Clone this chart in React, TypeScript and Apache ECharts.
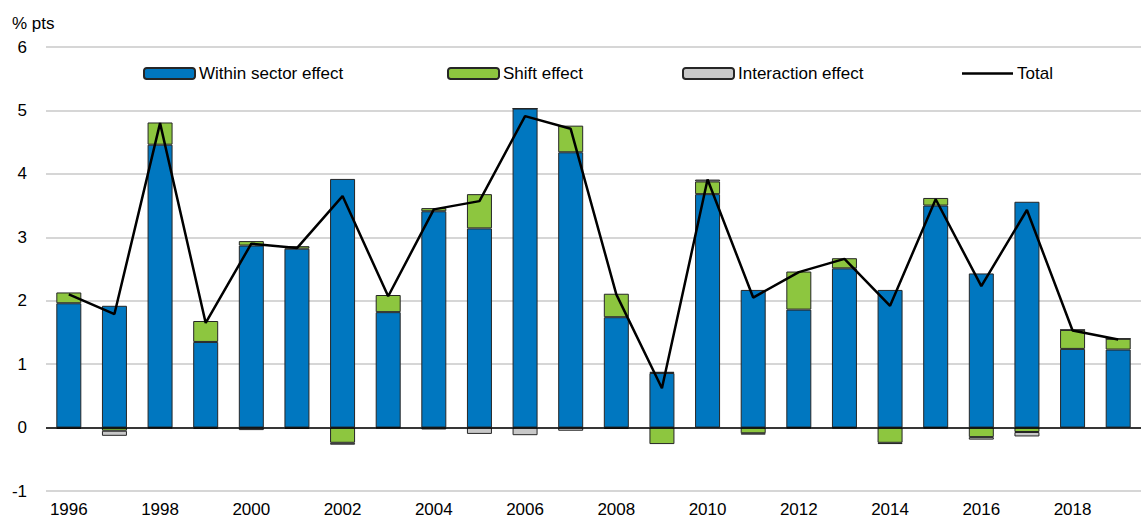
import React, { useEffect, useRef } from "react";
import * as echarts from "echarts";

const years = [
  "1996", "1997", "1998", "1999", "2000", "2001", "2002", "2003", "2004", "2005", "2006", "2007",
  "2008", "2009", "2010", "2011", "2012", "2013", "2014", "2015", "2016", "2017", "2018", "2019",
];
const withinSector = [
  1.96, 1.92, 4.46, 1.35, 2.87, 2.82, 3.92, 1.82, 3.41, 3.14, 5.03, 4.34,
  1.74, 0.86, 3.68, 2.17, 1.86, 2.51, 2.17, 3.5, 2.43, 3.56, 1.24, 1.23,
];
const shiftEffect = [
  0.17, -0.05, 0.35, 0.33, 0.07, 0.04, -0.24, 0.27, 0.05, 0.54, 0.0, 0.42,
  0.37, -0.26, 0.2, -0.09, 0.6, 0.16, -0.24, 0.12, -0.15, -0.07, 0.3, 0.17,
];
const interactionEffect = [
  -0.02, -0.08, -0.01, -0.02, -0.04, -0.02, -0.03, -0.01, -0.03, -0.1, -0.12, -0.05,
  -0.02, 0.02, 0.03, -0.02, -0.01, -0.01, -0.02, -0.01, -0.04, -0.07, 0.0, 0.0,
];
const total = [
  2.1, 1.79, 4.8, 1.65, 2.9, 2.83, 3.65, 2.07, 3.44, 3.57, 4.91, 4.71,
  2.1, 0.62, 3.91, 2.05, 2.45, 2.66, 1.92, 3.6, 2.23, 3.43, 1.53, 1.39,
];

const FONT = "'Liberation Sans', Arial, sans-serif";
const FS = 17;
const BLUE = "#0077c0";
const GREEN = "#8dc63f";
const GREY = "#c8c8c8";

export default function App() {
  const ref = useRef<HTMLDivElement>(null);
  useEffect(() => {
    if (!ref.current) return;
    const chart = echarts.init(ref.current, null, { renderer: "svg" });
    const barStyle = (c: string) => ({ color: c, borderColor: "#262626", borderWidth: 1 });
    const legendBase = {
      top: 60,
      itemWidth: 51,
      itemHeight: 11,
      itemGap: 5,
      textStyle: { fontFamily: FONT, fontSize: FS, color: "#000", padding: [0, 0, 0, -1] },
      selectedMode: false,
    };
    chart.setOption({
      animation: false,
      textStyle: { fontFamily: FONT },
      grid: { left: 46, top: 47, width: 1104, height: 444 },
      legend: [
        { ...legendBase, left: 138, data: ["Within sector effect"] },
        { ...legendBase, left: 442, data: ["Shift effect"] },
        { ...legendBase, left: 677, data: ["Interaction effect"] },
        {
          ...legendBase,
          left: 957,
          itemHeight: 2.5,
          data: [{ name: "Total", icon: "rect", itemStyle: { color: "#000", borderWidth: 0 } }],
        },
      ],
      graphic: [
        {
          type: "text",
          left: 12,
          top: 15,
          style: { text: "% pts", fontFamily: FONT, fontSize: FS, fill: "#000" },
        },
      ],
      xAxis: {
        type: "category",
        data: years,
        axisLine: { show: false, onZero: false },
        axisTick: { show: false },
        axisLabel: { interval: 1, fontSize: FS, color: "#000", margin: 10, fontFamily: FONT },
      },
      yAxis: {
        type: "value",
        min: -1,
        max: 6,
        interval: 1,
        axisLine: { show: false },
        axisTick: { show: false },
        axisLabel: { fontSize: FS, color: "#000", margin: 19, fontFamily: FONT },
        splitLine: { lineStyle: { color: "#c8c8c8", width: 1.6 } },
      },
      series: [
        {
          name: "Within sector effect",
          type: "bar",
          stack: "s",
          barWidth: 25,
          data: withinSector,
          itemStyle: barStyle(BLUE),
          markLine: {
            silent: true,
            symbol: "none",
            label: { show: false },
            lineStyle: { color: "#000", width: 1.6, type: "solid" },
            data: [{ yAxis: 0 }],
          },
        },
        {
          name: "Shift effect",
          type: "bar",
          stack: "s",
          barWidth: 25,
          data: shiftEffect,
          itemStyle: barStyle(GREEN),
        },
        {
          name: "Interaction effect",
          type: "bar",
          stack: "s",
          barWidth: 25,
          data: interactionEffect,
          itemStyle: barStyle(GREY),
        },
        {
          name: "Total",
          type: "line",
          data: total,
          symbol: "none",
          lineStyle: { color: "#000", width: 2.5 },
          itemStyle: { color: "#000" },
          z: 5,
        },
      ],
    });
    return () => chart.dispose();
  }, []);
  return (
    <div
      ref={ref}
      style={{ position: "fixed", left: 0, top: 0, width: 1141, height: 520, background: "#fff" }}
    />
  );
}
